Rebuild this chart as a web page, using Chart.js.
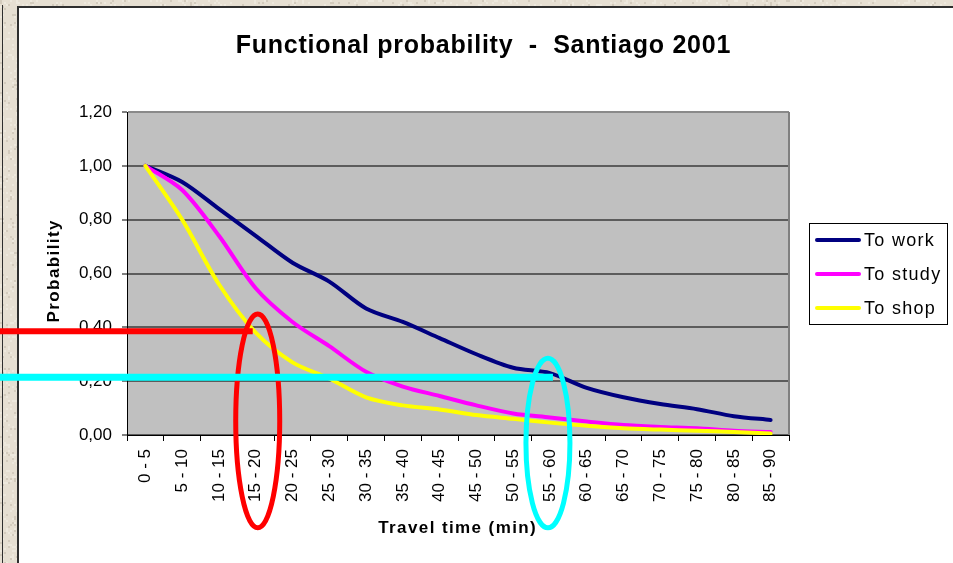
<!DOCTYPE html>
<html>
<head>
<meta charset="utf-8">
<script src="https://cdn.jsdelivr.net/npm/chart.js@4.4.1/dist/chart.umd.min.js"></script>
<style>
  html, body { margin: 0; padding: 0; background: #fff; overflow: hidden; }
  canvas { display: block; }
</style>
</head>
<body>
<canvas id="chart" width="953" height="563"></canvas>
<script>
// Travel-time bands (minutes)
const categories = ['0 - 5', '5 - 10', '10 - 15', '15 - 20', '20 - 25', '25 - 30', '30 - 35', '35 - 40', '40 - 45',
  '45 - 50', '50 - 55', '55 - 60', '60 - 65', '65 - 70', '70 - 75', '75 - 80', '80 - 85', '85 - 90'];

// Functional probability by trip purpose
const toWork  = [1.00, 0.94, 0.84, 0.74, 0.64, 0.57, 0.47, 0.42, 0.36, 0.30, 0.25, 0.23, 0.175, 0.14, 0.115, 0.096, 0.07, 0.056];
const toStudy = [1.00, 0.91, 0.74, 0.545, 0.42, 0.33, 0.235, 0.18, 0.145, 0.11, 0.08, 0.065, 0.05, 0.037, 0.03, 0.025, 0.016, 0.011];
const toShop  = [1.00, 0.80, 0.56, 0.38, 0.27, 0.21, 0.14, 0.11, 0.095, 0.074, 0.06, 0.046, 0.034, 0.025, 0.02, 0.016, 0.011, 0.006];

const seriesNames  = ['To work', 'To study', 'To shop'];
const seriesColors = ['#000080', '#ff00ff', '#ffff00'];

const yTickValues = [0, 0.2, 0.4, 0.6, 0.8, 1.0, 1.2];
const yTickLabels = ['0,00', '0,20', '0,40', '0,60', '0,80', '1,00', '1,20'];

const chartTitle = 'Functional probability  -  Santiago 2001';
const xTitle = 'Travel time (min)';
const yTitle = 'Probability';

// Highlighted reading levels: band, probability level, ring top / bottom (in probability units)
const markerBands   = ['15 - 20', '55 - 60'];
const markerLevels  = [0.385, 0.215];
const markerTops    = [0.45, 0.285];
const markerBottoms = [-0.345, -0.345];
const markerColors  = ['#ff0000', '#00ffff'];

const FONT = '"Liberation Sans", Arial, sans-serif';

function spacedText(ctx, text, x, y, spacing, align) {
  ctx.letterSpacing = spacing + 'px';
  const w = ctx.measureText(text).width - spacing;
  let sx = x;
  if (align === 'center') sx = x - w / 2;
  else if (align === 'right') sx = x - w;
  ctx.textAlign = 'left';
  ctx.fillText(text, sx, y);
  ctx.letterSpacing = '0px';
}

// Page frame, plot background and plot border
const framePlugin = {
  id: 'frame',
  beforeDraw(chart) {
    const { ctx, width, height, chartArea: a } = chart;
    ctx.save();
    ctx.fillStyle = '#e6dfd2';
    ctx.fillRect(0, 0, width, height);
    // soft stone speckle on the border strips
    const speck = (x, y) => {
      const h = Math.sin(x * 12.9898 + y * 78.233) * 43758.5453;
      return h - Math.floor(h);
    };
    for (let y = 0; y < height; y += 2) {
      const xmax = y < 8 ? width : 19;
      for (let x = 0; x < xmax; x += 2) {
        const f = speck(x, y);
        if (f < 0.05) { ctx.fillStyle = 'rgba(130,115,95,0.18)'; ctx.fillRect(x, y, 2, 2); }
        else if (f > 0.88) { ctx.fillStyle = 'rgba(255,255,250,0.3)'; ctx.fillRect(x, y, 2, 2); }
      }
    }
    ctx.fillStyle = '#ffffff';
    ctx.fillRect(19, 8, width - 19, height - 8);
    ctx.fillStyle = '#2e2e2e';
    ctx.fillRect(2, 5, 1, height - 5);
    ctx.fillRect(17, 6, 2, height - 6);
    ctx.fillRect(17, 6, width - 17, 2);
    // plot area
    ctx.fillStyle = '#c0c0c0';
    ctx.fillRect(a.left, a.top, a.right - a.left, a.bottom - a.top);
    ctx.restore();
  },
  beforeDatasetsDraw(chart) {
    const { ctx, chartArea: a } = chart;
    ctx.save();
    ctx.strokeStyle = '#808080';
    ctx.lineWidth = 2;
    ctx.beginPath();
    ctx.moveTo(a.right, a.top);
    ctx.lineTo(a.right, a.bottom);
    ctx.stroke();
    ctx.restore();
  }
};

// Titles, legend and highlighted reading levels
const decorPlugin = {
  id: 'decor',
  afterDraw(chart) {
    const { ctx, chartArea: a, scales } = chart;
    ctx.save();
    ctx.fillStyle = '#000';
    ctx.textBaseline = 'alphabetic';

    ctx.font = 'bold 25px ' + FONT;
    spacedText(ctx, chartTitle, 483, 53, 0.75, 'center');

    ctx.font = 'bold 17px ' + FONT;
    spacedText(ctx, xTitle, 457, 533, 1.4, 'center');

    ctx.save();
    ctx.translate(59, (a.top + a.bottom) / 2 - 2);
    ctx.rotate(-Math.PI / 2);
    spacedText(ctx, yTitle, 0, 0, 1.4, 'center');
    ctx.restore();

    // legend
    const lx = 809, ly = 223, lw = 138, lh = 101;
    ctx.fillStyle = '#fff';
    ctx.fillRect(lx, ly, lw, lh);
    ctx.strokeStyle = '#000';
    ctx.lineWidth = 1;
    ctx.strokeRect(lx + 0.5, ly + 0.5, lw, lh);
    ctx.font = '18px ' + FONT;
    chart.data.datasets.forEach((ds, i) => {
      const cy = 240 + i * 34;
      ctx.strokeStyle = ds.borderColor;
      ctx.lineWidth = 4;
      ctx.lineCap = 'round';
      ctx.beginPath();
      ctx.moveTo(817, cy);
      ctx.lineTo(859, cy);
      ctx.stroke();
      ctx.fillStyle = '#000';
      spacedText(ctx, ds.label, 864, cy + 6, 1.3, 'left');
    });

    // reading levels and band rings
    const xs = scales.x, ys = scales.y;
    markerBands.forEach((band, i) => {
      const cx = xs.getPixelForValue(categories.indexOf(band));
      const ly2 = ys.getPixelForValue(markerLevels[i]);
      const top = ys.getPixelForValue(markerTops[i]);
      const bot = ys.getPixelForValue(markerBottoms[i]);
      ctx.strokeStyle = markerColors[i];
      ctx.lineCap = 'butt';
      ctx.lineWidth = i === 0 ? 6 : 7;
      ctx.beginPath();
      ctx.moveTo(0, ly2);
      ctx.lineTo(cx - 3 + i * 6, ly2);
      ctx.stroke();
      ctx.lineWidth = 5;
      ctx.beginPath();
      ctx.ellipse(cx + 2 - i * 4, (top + bot) / 2, 22, (bot - top) / 2, 0, 0, Math.PI * 2);
      ctx.stroke();
    });
    ctx.restore();
  }
};

const seriesData = [toWork, toStudy, toShop];

new Chart(document.getElementById('chart'), {
  type: 'line',
  data: {
    labels: categories,
    datasets: seriesData.map((d, i) => ({
      label: seriesNames[i],
      data: d,
      borderColor: seriesColors[i],
      backgroundColor: seriesColors[i],
      borderWidth: 4,
      pointRadius: 0,
      tension: 0.3,
      fill: false,
      borderCapStyle: 'round',
      borderJoinStyle: 'round',
      order: 2 - i
    }))
  },
  options: {
    responsive: false,
    animation: false,
    devicePixelRatio: 1,
    layout: { padding: { left: 19, right: 164, top: 112, bottom: 0 } },
    plugins: {
      legend: { display: false },
      title: { display: false },
      tooltip: { enabled: false }
    },
    scales: {
      x: {
        offset: true,
        afterFit(scale) { scale.height = 128; },
        grid: {
          offset: true,
          drawOnChartArea: false,
          drawTicks: true,
          tickLength: 6,
          tickColor: '#000',
          tickWidth: 1
        },
        border: { display: true, color: '#000', width: 1 },
        ticks: {
          autoSkip: false,
          minRotation: 90,
          maxRotation: 90,
          padding: 8,
          color: '#000',
          font: { family: FONT, size: 17 }
        }
      },
      y: {
        min: 0,
        max: 1.2,
        afterFit(scale) { scale.width = 108; },
        afterBuildTicks(scale) { scale.ticks = yTickValues.map(v => ({ value: v })); },
        grid: {
          color: ctx => (ctx.tick && ctx.tick.value === 1.2 ? '#8a8a8a' : '#5c5c5c'),
          lineWidth: 2,
          drawTicks: true,
          tickLength: 5,
          tickColor: '#000',
          tickWidth: 1
        },
        border: { display: true, color: '#000', width: 1 },
        ticks: {
          padding: 10,
          color: '#000',
          font: { family: FONT, size: 17 },
          callback: (v) => {
            const k = yTickValues.findIndex(t => Math.abs(t - v) < 1e-9);
            return k >= 0 ? yTickLabels[k] : '';
          }
        }
      }
    }
  },
  plugins: [framePlugin, decorPlugin]
});
</script>
</body>
</html>
